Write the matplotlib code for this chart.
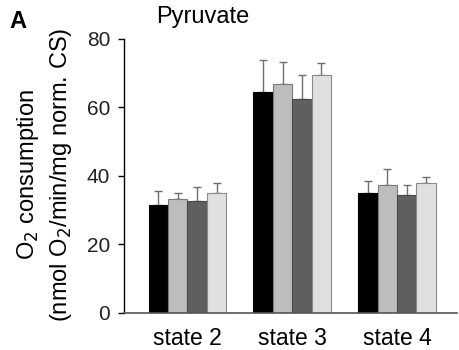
import matplotlib
matplotlib.use("Agg")
import matplotlib.pyplot as plt
import numpy as np

# data
states = ["state 2", "state 3", "state 4"]
group_means = [
    [31.5, 64.4, 35.0],   # black
    [33.2, 66.8, 37.3],   # light gray
    [32.7, 62.4, 34.4],   # dark gray
    [35.0, 69.4, 37.9],   # very light gray
]
group_errs = [
    [4.1, 9.4, 3.5],
    [1.8, 6.4, 4.7],
    [4.0, 7.0, 2.9],
    [2.9, 3.5, 1.8],
]
fill_colors = ["#000000", "#bdbdbd", "#5f5f5f", "#e0e0e0"]
edge_colors = ["#000000", "#7a7a7a", "#4a4a4a", "#8a8a8a"]

plt.rcParams["font.family"] = ["Liberation Sans", "DejaVu Sans"]

fig = plt.figure(figsize=(4.59, 3.5), dpi=100)
ax = fig.add_axes([0.270, 0.106, 0.725, 0.783])

x = np.arange(len(states))
w = 0.185
for i in range(4):
    pos = x + (i - 1.5) * w
    ax.bar(pos, group_means[i], width=w, color=fill_colors[i],
           edgecolor=edge_colors[i], linewidth=0.8, zorder=2)
    ax.errorbar(pos, group_means[i], yerr=[np.zeros(3), group_errs[i]],
                fmt="none", ecolor="#707070", elinewidth=1.0,
                capsize=3, capthick=1.0, zorder=1)

ax.set_xlim(-0.606, 2.57)
ax.set_ylim(0, 80)
ax.set_yticks([0, 20, 40, 60, 80])
ax.set_xticks(x)
ax.set_xticklabels(states, fontsize=16.5)
ax.tick_params(axis="y", labelsize=15, length=4, width=1, direction="out",
               pad=6, labelcolor="#222222")
ax.tick_params(axis="x", length=0, pad=10)
ax.spines["top"].set_visible(False)
ax.spines["right"].set_visible(False)
ax.spines["left"].set_linewidth(1.0)
ax.spines["bottom"].set_color("#555555")
ax.spines["bottom"].set_linewidth(1.2)

fig.text(0.062, 0.50, "O$_2$ consumption", rotation=90, fontsize=17,
         ha="center", va="center")
fig.text(0.133, 0.50, "(nmol O$_2$/min/mg norm. CS)", rotation=90, fontsize=17,
         ha="center", va="center")
fig.text(0.442, 0.950, "Pyruvate", fontsize=17, ha="center", va="center")
fig.text(0.040, 0.940, "A", fontsize=17, fontweight="bold", ha="center", va="center")

fig.savefig("out.png", dpi=100)
